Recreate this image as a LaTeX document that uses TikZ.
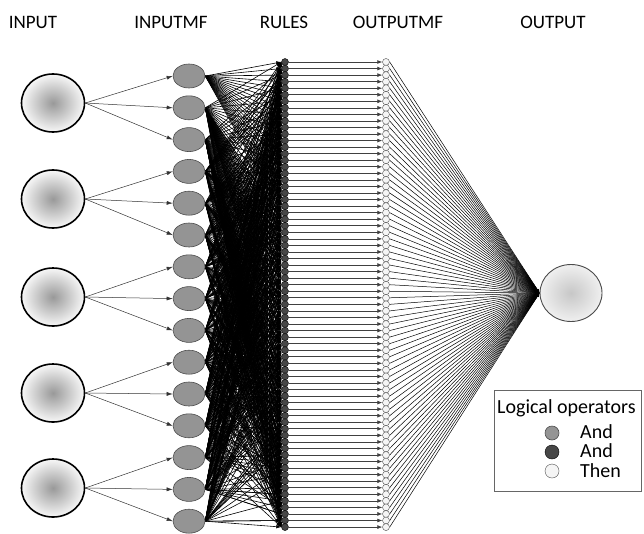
\documentclass[tikz,border=0pt]{standalone}
\usepackage{fontspec}
\setmainfont{Carlito}
\usetikzlibrary{arrows.meta,shapes.geometric}
\pgfdeclarelayer{background}
\pgfsetlayers{background,main}
\begin{document}
\begin{tikzpicture}[x=1pt,y=-1pt,
  title/.style={font=\fontsize{19}{22}\selectfont, inner sep=0pt},
  innode/.style={ellipse, draw=black, line width=1.6pt, minimum width=63pt, minimum height=58pt,
                 inner sep=0pt, inner color=black!40, outer color=black!3},
  mfnode/.style={ellipse, draw=black!70, fill=black!42, line width=0.6pt,
                 minimum width=32pt, minimum height=24pt, inner sep=0pt},
  rulenode/.style={circle, draw=black, fill=black!72, line width=0.4pt, minimum size=7pt, inner sep=0pt},
  omfnode/.style={circle, draw=black!70, fill=black!4, line width=0.4pt, minimum size=7pt, inner sep=0pt},
  outnode/.style={ellipse, draw=black!70, line width=0.9pt, minimum width=62pt, minimum height=57pt,
                  inner sep=0pt, inner color=black!22, outer color=black!6},
  inedge/.style={draw=black!80, line width=0.5pt, -{Latex[length=6pt,width=4pt]}},
  fanedge/.style={draw=black, line width=0.6pt, -{Latex[length=5pt,width=3.5pt]}},
  ruleedge/.style={draw=black!75, line width=0.7pt, -{Latex[length=5pt,width=4pt]}},
  outedge/.style={draw=black, line width=0.5pt, -{Latex[length=4pt,width=2.5pt]}},
  legtext/.style={font=\fontsize{20}{23}\selectfont, inner sep=0pt, anchor=west}
]
\useasboundingbox (0,0) rectangle (644,533);
\clip (0,0) rectangle (644,533);

% layer titles
\node[title] (tin)   at (33,22)  {INPUT};
\node[title] (tmf)   at (171,22) {INPUTMF};
\node[title] (trule) at (284,22) {RULES};
\node[title] (tomf)  at (398,22) {OUTPUTMF};
\node[title] (tout)  at (553,22) {OUTPUT};

% inputs
\foreach \i/\y in {1/103,2/199,3/297,4/393,5/488}
  \node[innode] (in\i) at (53,\y) {};

% input membership functions
\foreach \k in {1,...,15}
  \node[mfnode] (mf\k) at (189,{76+(\k-1)*31.8}) {};

% rules and output membership functions
\foreach \r in {0,...,71} {
  \node[rulenode] (r\r) at (285,{62+\r*6.55}) {};
  \node[omfnode]  (o\r) at (386,{62+\r*6.55}) {};
}

% output
\node[outnode] (out) at (571,293) {};

\begin{pgfonlayer}{background}
  % input -> membership functions
  \foreach \i in {1,...,5} {
    \foreach \j in {1,2,3} {
      \pgfmathtruncatemacro\k{3*(\i-1)+\j}
      \draw[inedge] (in\i.east) -- (mf\k.west);
    }
  }
  % membership functions -> rules
  \foreach \r in {0,...,71} {
    \pgfmathtruncatemacro\ka{1+floor(\r/24)}
    \pgfmathtruncatemacro\kb{4+mod(floor(\r/8),3)}
    \pgfmathtruncatemacro\kc{7+mod(floor(\r/3)+\r,3)}
    \pgfmathtruncatemacro\kd{10+mod(\r,3)}
    \pgfmathtruncatemacro\ke{13+mod(\r+floor(\r/9),3)}
    \pgfmathtruncatemacro\kf{2+mod(\r,2)}
    \pgfmathtruncatemacro\kg{4+mod(\r+1,3)}
    \pgfmathtruncatemacro\kh{7+mod(floor(\r/4),3)}
    \pgfmathtruncatemacro\ki{10+mod(floor(\r/2)+1,3)}
    \pgfmathtruncatemacro\kj{13+mod(floor(\r/5),3)}
    \foreach \k in {\ka,\kb,\kc,\kd,\ke,\kf,\kg,\kh,\ki,\kj}
      \draw[fanedge] (mf\k.east) -- (r\r.west);
  }
  % rules -> output membership functions -> output
  \foreach \r in {0,...,71} {
    \draw[ruleedge] (r\r.east) -- (o\r.west);
    \draw[outedge] (o\r.east) -- (out.west);
  }
\end{pgfonlayer}

% legend
\draw[draw=black!60, line width=0.6pt, fill=white] (494,390) rectangle (641,491);
\node[legtext] (lt) at (497,408) {Logical operators};
\node[mfnode, minimum width=14pt, minimum height=14pt] (lg1) at (552,433) {};
\node[rulenode, minimum size=14pt] (lg2) at (552,452) {};
\node[omfnode, minimum size=14pt] (lg3) at (552,471) {};
\node[legtext] (la1) at (580,432) {And};
\node[legtext] (la2) at (580,451) {And};
\node[legtext] (la3) at (580,471) {Then};
\end{tikzpicture}
\end{document}
